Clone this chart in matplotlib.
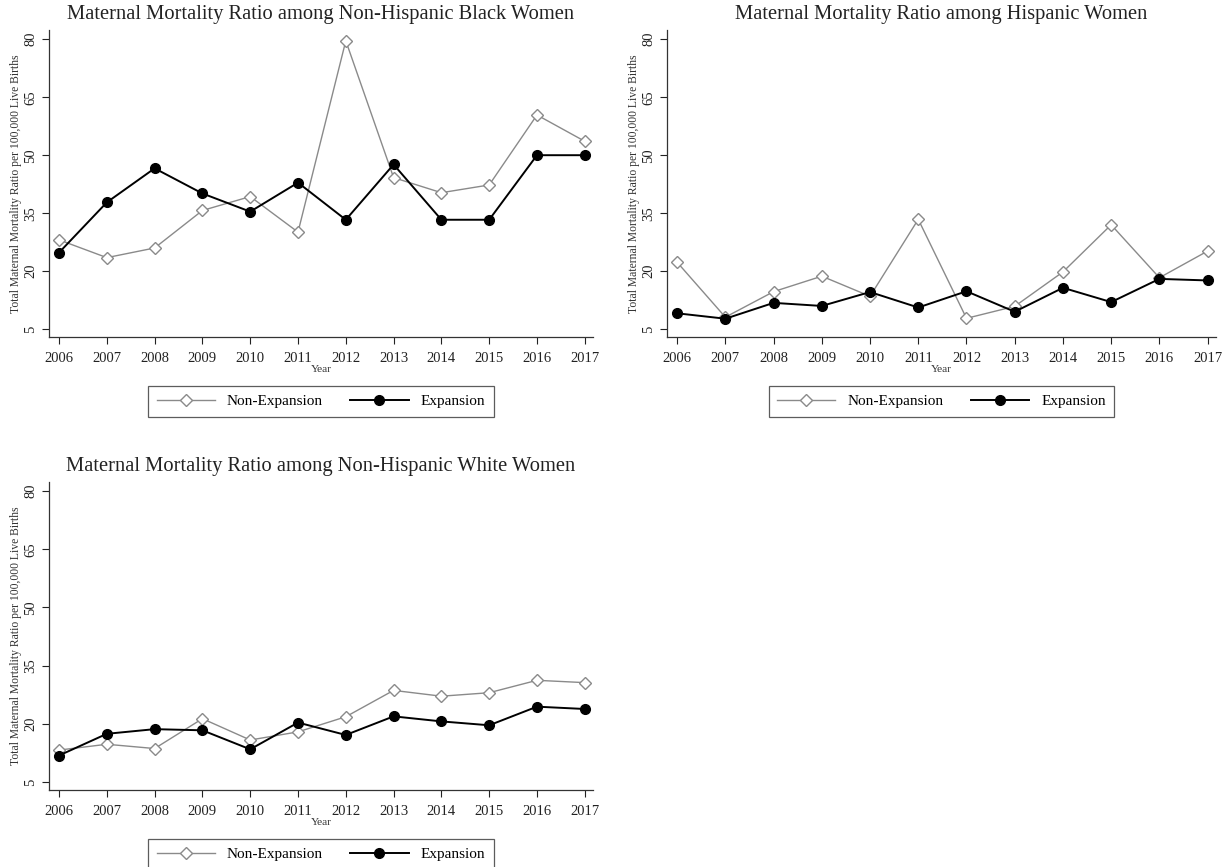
import numpy as np
import matplotlib
matplotlib.use("Agg")
import matplotlib.pyplot as plt

plt.rcParams["font.family"] = ["Liberation Serif", "DejaVu Serif"]

years = np.arange(2006, 2018)
yticks = [5, 20, 35, 50, 65, 80]

# MMR per 100,000 live births, by race/ethnicity and expansion status
black_nonexp = [28.1, 23.5, 26.0, 35.7, 39.3, 30.1, 79.6, 44.2, 40.3, 42.3, 60.4, 53.6]
black_exp = [24.8, 37.8, 46.6, 40.1, 35.4, 42.9, 33.3, 47.6, 33.3, 33.3, 50.0, 50.0]

hisp_nonexp = [22.3, 8.1, 14.7, 18.7, 13.5, 33.4, 7.8, 10.9, 19.8, 32.0, 18.3, 25.2]
hisp_exp = [9.1, 7.7, 11.8, 11.0, 14.6, 10.6, 14.8, 9.5, 15.7, 12.0, 18.0, 17.6]

white_nonexp = [13.2, 14.7, 13.6, 21.3, 15.8, 17.9, 21.8, 28.6, 27.1, 28.0, 31.2, 30.6]
white_exp = [11.8, 17.4, 18.6, 18.3, 13.4, 20.3, 17.1, 21.9, 20.6, 19.6, 24.4, 23.8]

panels = [
    ("Maternal Mortality Ratio among Non-Hispanic Black Women",
     black_nonexp, black_exp, [0.040, 0.611, 0.444, 0.354]),
    ("Maternal Mortality Ratio among Hispanic Women",
     hisp_nonexp, hisp_exp, [0.5445, 0.611, 0.448, 0.354]),
    ("Maternal Mortality Ratio among Non-Hispanic White Women",
     white_nonexp, white_exp, [0.040, 0.0888, 0.444, 0.355]),
]

gray = "#8a8a8a"

fig = plt.figure(figsize=(12.25, 8.67), dpi=100)

for title, nonexp, exp, rect in panels:
    ax = fig.add_axes(rect)
    ax.plot(years, nonexp, color=gray, lw=1.0, marker="D", ms=6,
            mfc="white", mec=gray, mew=1.0, label="Non-Expansion")
    ax.plot(years, exp, color="black", lw=1.4, marker="o", ms=7,
            mfc="black", mec="black", label="Expansion")

    ax.set_xlim(2005.79, 2017.17)
    ax.set_ylim(2.9, 82.3)
    ax.set_xticks(years)
    ax.set_yticks(yticks)
    ax.tick_params(axis="both", direction="out", length=5, width=0.8,
                   labelsize=10.5, colors="#222222")
    ax.tick_params(axis="x", pad=5.8)
    for lab in ax.get_yticklabels():
        lab.set_rotation(90)
        lab.set_va("center")
    ax.spines["top"].set_visible(False)
    ax.spines["right"].set_visible(False)
    for s in ("left", "bottom"):
        ax.spines[s].set_linewidth(0.9)
        ax.spines[s].set_color("#333333")

    ax.set_title(title, fontsize=14.8, pad=8, color="#222222")
    ax.set_ylabel("Total Maternal Mortality Ratio per 100,000 Live Births",
                  fontsize=8.4, labelpad=1.5, color="#333333")
    ax.set_xlabel("Year", fontsize=8.2, labelpad=0, color="#333333")

    leg = ax.legend(loc="upper center", bbox_to_anchor=(0.5, -0.135), ncol=2,
                    frameon=True, fancybox=False, fontsize=11,
                    handlelength=3.8, columnspacing=1.8, borderpad=0.55,
                    handletextpad=0.8)
    leg.get_frame().set_edgecolor("#333333")
    leg.get_frame().set_linewidth(0.9)

fig.savefig("out.png", dpi=100, facecolor="white")
